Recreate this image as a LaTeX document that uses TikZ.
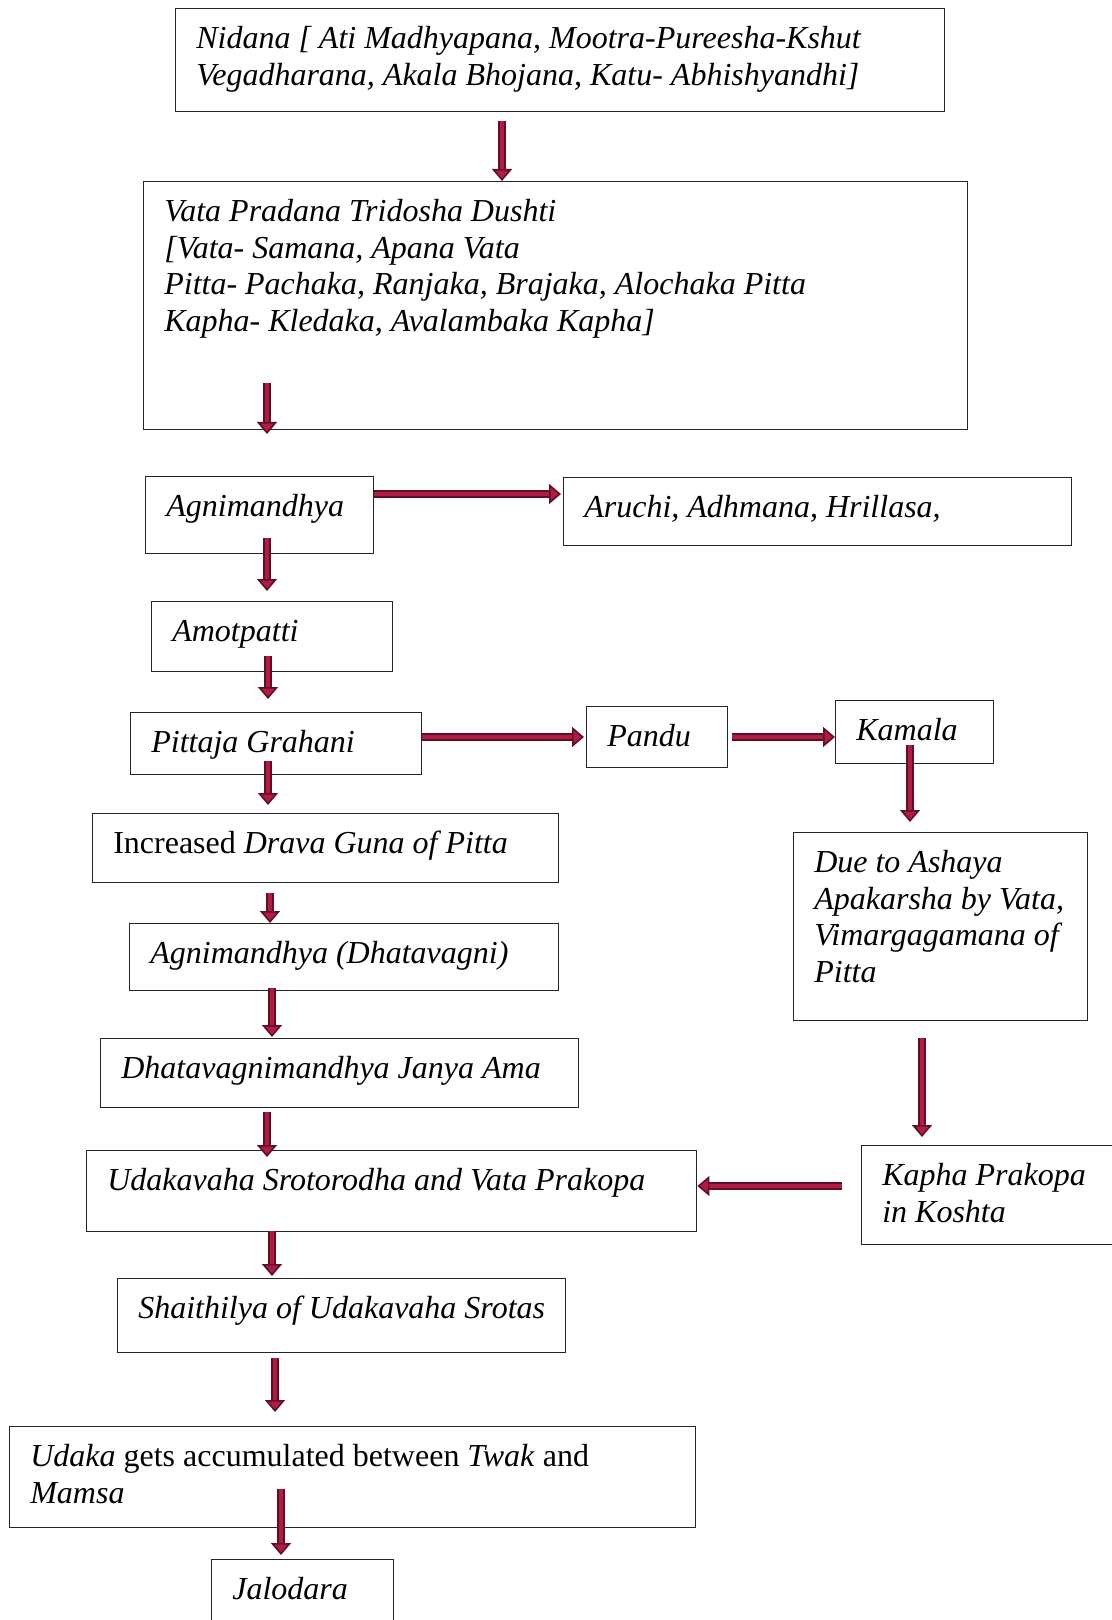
\documentclass[tikz,border=0pt]{standalone}
\usepackage{fontspec}
\setmainfont{Liberation Serif}
\usepackage{xcolor}
\usetikzlibrary{positioning, calc, arrows.meta}

\definecolor{arrdark}{RGB}{96,14,36}
\definecolor{arrred}{RGB}{178,28,68}

\newdimen\pxu
\pxu=0.5pt
\newcommand{\boxtext}[3]{\parbox[t][#2\pxu][t]{#1\pxu}{\raggedright\leftskip=10.3pt\rule{0pt}{19.8pt}#3}}

\begin{document}
\begin{tikzpicture}[
    x=0.5pt, y=-0.5pt,
    box/.style={rectangle, draw=black!85, line width=0.7pt, inner sep=0pt, anchor=north west, font=\fontsize{16}{18.4}\selectfont\itshape},
    arrow/.style={draw=arrdark, double=arrred, line width=1pt, double distance=2.4pt, -{Triangle[width=10pt, length=6pt, fill=arrred, line width=0.8pt]}}
]
\useasboundingbox (0,0) rectangle (1112,1620);

% Flow boxes
\node[box] (nidana) at (175,8) {\boxtext{769}{103}{Nidana [ Ati Madhyapana, Mootra-Pureesha-Kshut\\Vegadharana, Akala Bhojana, Katu- Abhishyandhi]}};
\node[box] (vata) at (143,181) {\boxtext{824}{248}{Vata Pradana Tridosha Dushti\\{}[Vata- Samana, Apana Vata\\Pitta- Pachaka, Ranjaka, Brajaka, Alochaka Pitta\\Kapha- Kledaka, Avalambaka Kapha]}};
\node[box] (agni) at (145,476) {\boxtext{228}{77}{Agnimandhya}};
\node[box] (aruchi) at (563,477) {\boxtext{508}{68}{Aruchi, Adhmana, Hrillasa,}};
\node[box] (amot) at (151,601) {\boxtext{241}{70}{Amotpatti}};
\node[box] (pittaja) at (130,712) {\boxtext{291}{62}{Pittaja Grahani}};
\node[box] (pandu) at (586,706) {\boxtext{141}{61}{Pandu}};
\node[box] (kamala) at (835,700) {\boxtext{158}{63}{Kamala}};
\node[box] (incr) at (92,813) {\boxtext{466}{69}{\textup{Increased} Drava Guna of Pitta}};
\node[box] (due) at (793,832) {\boxtext{294}{188}{Due to Ashaya\\Apakarsha by Vata,\\Vimargagamana of\\Pitta}};
\node[box] (agnidh) at (129,923) {\boxtext{429}{67}{Agnimandhya (Dhatavagni)}};
\node[box] (dhatav) at (100,1038) {\boxtext{478}{69}{Dhatavagnimandhya Janya Ama}};
\node[box] (udakav) at (86,1150) {\boxtext{610}{81}{Udakavaha Srotorodha and Vata Prakopa}};
\node[box] (kapha) at (861,1145) {\boxtext{270}{99}{Kapha Prakopa\\in Koshta}};
\node[box] (shaith) at (117,1278) {\boxtext{448}{74}{Shaithilya of Udakavaha Srotas}};
\node[box] (udaka) at (9,1426) {\boxtext{686}{101}{Udaka \textup{gets accumulated between} Twak \textup{and}\\Mamsa}};
\node[box] (jalo) at (211,1559) {\boxtext{182}{90}{Jalodara}};

% Arrows
\draw[arrow] ($(nidana.south west)+(327,9)$) -- ($(vata.north west)+(359,0)$);
\draw[arrow] ($(vata.south west)+(124,-47)$) -- ($(agni.north west)+(122,-42)$);
\draw[arrow] ($(agni.north east)+(0,18)$) -- ($(aruchi.north west)+(-2,17)$);
\draw[arrow] ($(agni.south west)+(122,-16)$) -- ($(amot.north west)+(116,-10)$);
\draw[arrow] ($(amot.south west)+(117,-16)$) -- ($(pittaja.north west)+(138,-13)$);
\draw[arrow] ($(pittaja.north east)+(0,25)$) -- ($(pandu.north west)+(-2,31)$);
\draw[arrow] ($(pandu.north east)+(4,31)$) -- ($(kamala.north west)+(0,37)$);
\draw[arrow] ($(kamala.south west)+(75,-19)$) -- ($(due.north west)+(117,-10)$);
\draw[arrow] ($(pittaja.south west)+(138,-14)$) -- ($(incr.north west)+(176,-8)$);
\draw[arrow] ($(incr.south west)+(178,10)$) -- ($(agnidh.north west)+(141,0)$);
\draw[arrow] ($(agnidh.south west)+(143,-3)$) -- ($(dhatav.north west)+(172,-1)$);
\draw[arrow] ($(dhatav.south west)+(167,4)$) -- ($(udakav.north west)+(181,7)$);
\draw[arrow] ($(due.south west)+(129,17)$) -- ($(kapha.north west)+(61,-8)$);
\draw[arrow] ($(kapha.north west)+(-19,41)$) -- ($(udakav.north east)+(0,36)$);
\draw[arrow] ($(udakav.south west)+(186,-1)$) -- ($(shaith.north west)+(155,-2)$);
\draw[arrow] ($(shaith.south west)+(158,5)$) -- ($(udaka.north west)+(266,-14)$);
\draw[arrow] ($(udaka.south west)+(272,-39)$) -- ($(jalo.north west)+(70,-4)$);

\end{tikzpicture}
\end{document}
